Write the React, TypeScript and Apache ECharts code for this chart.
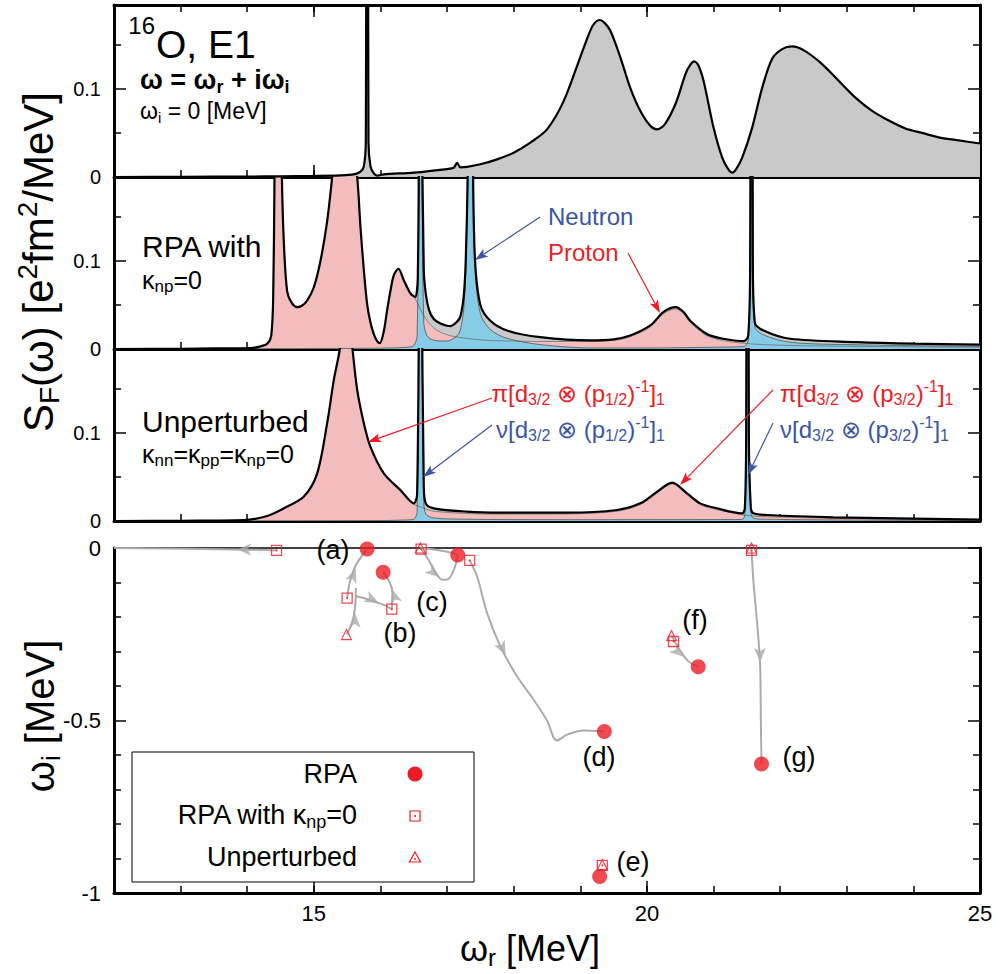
import React, { useEffect, useRef } from 'react';
import * as echarts from 'echarts';

const FONT = '"Liberation Sans", Arial, Helvetica, sans-serif';
const RED = '#ed1c24';
const BLUE = '#3b55a5';
const GRAY_FILL = '#c9c9c9';
const PINK_FILL = '#f4bdbd';
const BLUE_FILL = '#86cce6';
const TRAJ = '#ababab';

// ---------- tick labels ----------
const xTickCategories = ['12', '13', '14', '15', '16', '17', '18', '19', '20', '21', '22', '23', '24', '25'];
const xLabeledTicks = ['15', '20', '25'];
const xLongTicks = ['15', '20'];
const spectrumYTickValues = [0, 0.1];
const spectrumYTickLabels = ['0', '0.1'];
const bottomYTickValues = [-1, -0.5, 0];
const bottomYTickLabels = ['-1', '-0.5', '0'];

// ---------- panel 1 : RPA strength (omega_i = 0) ----------
const rpaTotal = [
  [12.0, 0.0], [13.0, 0.0002], [14.0, 0.0005], [14.5, 0.0008], [15.0, 0.0012], [15.4, 0.0018], [15.6, 0.003],
  [15.7, 0.006], [15.75, 0.012], [15.78, 0.04], [15.8, 0.9], [15.82, 0.04], [15.85, 0.012], [15.9, 0.004],
  [15.95, 0.0015], [16.05, 0.003], [16.5, 0.005], [17.0, 0.009], [17.1, 0.0105], [17.15, 0.016], [17.2, 0.011],
  [17.3, 0.0115], [17.5, 0.0144], [17.75, 0.02], [18.0, 0.0276], [18.25, 0.039], [18.5, 0.054], [18.75, 0.086],
  [19.0, 0.136], [19.15, 0.166], [19.22, 0.175], [19.29, 0.178], [19.36, 0.175], [19.45, 0.166], [19.6, 0.136],
  [19.75, 0.101], [19.9, 0.075], [20.05, 0.058], [20.15, 0.054], [20.27, 0.06], [20.43, 0.083], [20.58, 0.117],
  [20.65, 0.127], [20.71, 0.131], [20.77, 0.127], [20.85, 0.109], [21.0, 0.056], [21.13, 0.022], [21.22, 0.009],
  [21.28, 0.005], [21.34, 0.009], [21.43, 0.022], [21.58, 0.056], [21.73, 0.101], [21.88, 0.134], [22.03, 0.145],
  [22.18, 0.148], [22.37, 0.143], [22.63, 0.128], [22.88, 0.109], [23.13, 0.09], [23.38, 0.075], [23.63, 0.064],
  [23.88, 0.055], [24.13, 0.05], [24.38, 0.045], [24.63, 0.042], [25.0, 0.038],
];

// ---------- panel 2 : RPA with kappa_np = 0 ----------
const rpaNp0Total = [
  [12.0, 0.0], [13.0, 0.0003], [13.5, 0.0006], [14.05, 0.001], [14.2, 0.003], [14.3, 0.006], [14.36, 0.015],
  [14.39, 0.06], [14.41, 0.2], [14.45, 0.5], [14.52, 0.195], [14.55, 0.12], [14.6, 0.065], [14.67, 0.052],
  [14.75, 0.0475], [14.82, 0.049], [14.9, 0.055], [15.0, 0.07], [15.1, 0.1], [15.2, 0.145], [15.275, 0.195],
  [15.45, 0.32], [15.65, 0.195], [15.7, 0.138], [15.75, 0.09], [15.8, 0.051], [15.85, 0.03], [15.9, 0.017],
  [15.95, 0.009], [15.99, 0.0066], [16.05, 0.02], [16.1, 0.044], [16.15, 0.066], [16.2, 0.0835], [16.27, 0.091],
  [16.35, 0.078], [16.45, 0.063], [16.52, 0.059], [16.56, 0.08], [16.58, 0.3], [16.6, 1.0], [16.62, 0.3],
  [16.65, 0.09], [16.68, 0.063], [16.73, 0.044], [16.8, 0.034], [16.9, 0.029], [17.05, 0.026], [17.15, 0.031],
  [17.2, 0.037], [17.25, 0.06], [17.28, 0.1], [17.31, 0.2], [17.35, 0.5], [17.39, 0.2], [17.42, 0.1], [17.5, 0.05],
  [17.65, 0.032], [17.9, 0.021], [18.4, 0.0134], [19.15, 0.0097], [19.5, 0.011], [19.75, 0.0153], [20.05, 0.0267],
  [20.25, 0.042], [20.43, 0.0475], [20.55, 0.042], [20.65, 0.032], [20.9, 0.017], [21.15, 0.0116], [21.45, 0.0089],
  [21.52, 0.015], [21.55, 0.1], [21.57, 1.0], [21.59, 0.1], [21.62, 0.03], [21.75, 0.021], [22.15, 0.0116],
  [23.15, 0.0078], [24.0, 0.006], [25.0, 0.005],
];
const rpaNp0Proton = [
  [12.0, 0.0], [13.0, 0.0003], [13.5, 0.0006], [14.05, 0.001], [14.2, 0.003], [14.3, 0.006], [14.36, 0.015],
  [14.39, 0.06], [14.41, 0.2], [14.45, 0.5], [14.52, 0.195], [14.55, 0.12], [14.6, 0.065], [14.67, 0.052],
  [14.75, 0.0475], [14.82, 0.049], [14.9, 0.055], [15.0, 0.07], [15.1, 0.1], [15.2, 0.145], [15.275, 0.195],
  [15.45, 0.32], [15.65, 0.195], [15.7, 0.138], [15.75, 0.09], [15.8, 0.051], [15.85, 0.03], [15.9, 0.017],
  [15.95, 0.009], [15.99, 0.0066], [16.05, 0.02], [16.1, 0.044], [16.15, 0.066], [16.2, 0.0835], [16.27, 0.091],
  [16.35, 0.078], [16.45, 0.063], [16.52, 0.057], [16.6, 0.045], [16.7, 0.032], [16.8, 0.024], [16.9, 0.019],
  [17.05, 0.015], [17.3, 0.012], [17.6, 0.0098], [18.0, 0.009], [18.5, 0.0085], [19.15, 0.0085], [19.5, 0.0098],
  [19.75, 0.014], [20.05, 0.025], [20.25, 0.04], [20.43, 0.0455], [20.55, 0.04], [20.65, 0.03], [20.9, 0.015],
  [21.15, 0.0095], [21.45, 0.0065], [21.75, 0.005], [22.15, 0.004], [23.15, 0.003], [25.0, 0.002],
];
const rpaNp0Neutron = [
  [12.0, 0.0], [15.0, 0.0005], [16.0, 0.001], [16.4, 0.002], [16.5, 0.004], [16.55, 0.015], [16.58, 0.25],
  [16.6, 1.0], [16.62, 0.25], [16.65, 0.03], [16.7, 0.015], [16.8, 0.01], [17.0, 0.009], [17.15, 0.015],
  [17.2, 0.022], [17.25, 0.045], [17.28, 0.088], [17.31, 0.19], [17.35, 0.49], [17.39, 0.19], [17.42, 0.09],
  [17.5, 0.04], [17.65, 0.022], [17.9, 0.012], [18.4, 0.005], [19.15, 0.0012], [20.0, 0.0012], [21.0, 0.002],
  [21.45, 0.0028], [21.52, 0.009], [21.55, 0.095], [21.57, 1.0], [21.59, 0.095], [21.62, 0.025], [21.75, 0.016],
  [22.15, 0.0076], [23.15, 0.0048], [25.0, 0.003],
];

// ---------- panel 3 : unperturbed ----------
const unpTotal = [
  [12.0, 0.0], [13.0, 0.0003], [13.95, 0.001], [14.3, 0.0057], [14.55, 0.0144], [14.85, 0.0277], [15.05, 0.054],
  [15.2, 0.111], [15.3, 0.16], [15.39, 0.195], [15.49, 0.26], [15.58, 0.195], [15.65, 0.149], [15.75, 0.111],
  [15.85, 0.084], [16.05, 0.054], [16.3, 0.035], [16.5, 0.02], [16.55, 0.03], [16.58, 0.3], [16.6, 1.0],
  [16.62, 0.3], [16.65, 0.04], [16.68, 0.02], [16.8, 0.0144], [17.3, 0.0106], [17.8, 0.0095], [18.8, 0.0095],
  [19.55, 0.0125], [19.9, 0.02], [20.15, 0.033], [20.38, 0.0435], [20.6, 0.0315], [20.8, 0.02], [21.05, 0.0144],
  [21.43, 0.0087], [21.47, 0.015], [21.49, 0.1], [21.51, 1.0], [21.53, 0.1], [21.56, 0.015], [21.6, 0.0087],
  [21.8, 0.0068], [22.8, 0.0042], [25.0, 0.0015],
];
const unpProton = [
  [12.0, 0.0], [13.0, 0.0003], [13.95, 0.001], [14.3, 0.0057], [14.55, 0.0144], [14.85, 0.0277], [15.05, 0.054],
  [15.2, 0.111], [15.3, 0.16], [15.39, 0.195], [15.49, 0.26], [15.58, 0.195], [15.65, 0.149], [15.75, 0.111],
  [15.85, 0.084], [16.05, 0.054], [16.3, 0.034], [16.5, 0.019], [16.6, 0.016], [16.7, 0.013], [16.8, 0.011],
  [17.3, 0.0085], [17.8, 0.0078], [18.8, 0.008], [19.55, 0.011], [19.9, 0.0185], [20.15, 0.0315], [20.38, 0.042],
  [20.6, 0.03], [20.8, 0.0185], [21.05, 0.013], [21.43, 0.007], [21.6, 0.0055], [21.8, 0.0048], [22.8, 0.003],
  [25.0, 0.001],
];
const unpNeutron = [
  [12.0, 0.0], [16.0, 0.0005], [16.3, 0.001], [16.5, 0.002], [16.55, 0.011], [16.58, 0.29], [16.6, 1.0],
  [16.62, 0.29], [16.65, 0.025], [16.68, 0.008], [16.8, 0.0035], [17.3, 0.002], [18.8, 0.0015], [21.43, 0.0017],
  [21.47, 0.008], [21.49, 0.095], [21.51, 1.0], [21.53, 0.095], [21.56, 0.01], [21.6, 0.0032], [21.8, 0.002],
  [22.8, 0.0012], [25.0, 0.0005],
];

// ---------- panel 4 : complex-plane poles ----------
const rpaPoles = [[15.8, -0.003], [16.04, -0.07], [17.16, -0.02], [19.36, -0.532], [19.29, -0.952], [20.77, -0.344], [21.72, -0.626]];
const rpaNp0Poles = [[14.44, -0.007], [15.5, -0.145], [16.17, -0.177], [16.61, -0.003], [17.34, -0.036], [19.33, -0.92], [20.4, -0.271], [21.57, -0.007]];
const unperturbedPoles = [[15.49, -0.251], [16.6, 0.0], [19.33, -0.918], [20.37, -0.254], [21.57, 0.0]];

const trajectories = [
  [[14.44, -0.007], [13.8, -0.004], [12.0, 0.0]],
  [[15.49, -0.251], [15.57, -0.22], [15.62, -0.17], [15.63, -0.116]],
  [[15.5, -0.145], [15.54, -0.1], [15.63, -0.05], [15.8, -0.003]],
  [[15.63, -0.14], [15.75, -0.145], [15.9, -0.155], [16.05, -0.165], [16.17, -0.177]],
  [[16.17, -0.177], [16.18, -0.13], [16.14, -0.1], [16.04, -0.07]],
  [[16.6, 0.0], [16.72, -0.034], [16.83, -0.072], [16.93, -0.092], [17.02, -0.09], [17.12, -0.053], [17.16, -0.02]],
  [[16.6, 0.0], [16.85, -0.006], [17.05, -0.013], [17.16, -0.02]],
  [[17.34, -0.036], [17.45, -0.082], [17.6, -0.188], [17.8, -0.285], [18.05, -0.372], [18.3, -0.44], [18.5, -0.5],
    [18.65, -0.558], [18.8, -0.541], [19.05, -0.529], [19.36, -0.532]],
  [[20.37, -0.254], [20.6, -0.324], [20.77, -0.344]],
  [[21.57, -0.005], [21.6, -0.1], [21.65, -0.208], [21.7, -0.343], [21.71, -0.498], [21.72, -0.626]],
];
const trajectoryArrows = [
  { at: [13.85, -0.004], toward: [13.0, -0.002] },
  { at: [15.62, -0.19], toward: [15.63, -0.13] },
  { at: [15.63, -0.06], toward: [15.7, -0.025] },
  { at: [15.97, -0.158], toward: [16.1, -0.17] },
  { at: [16.18, -0.12], toward: [16.15, -0.1] },
  { at: [16.88, -0.084], toward: [16.95, -0.095] },
  { at: [17.88, -0.31], toward: [18.0, -0.355] },
  { at: [20.55, -0.315], toward: [20.65, -0.332] },
  { at: [21.7, -0.33], toward: [21.705, -0.4] },
];

const poleLabels = [
  { text: '(a)', px: [333, 550] },
  { text: '(b)', px: [400, 633] },
  { text: '(c)', px: [432, 602] },
  { text: '(d)', px: [599, 757] },
  { text: '(e)', px: [633, 862] },
  { text: '(f)', px: [695, 620] },
  { text: '(g)', px: [799, 757] },
];

const rich = (s: number, c: string, weight = 'normal', lh = 1.2) => ({
  m: { fontSize: s, fontFamily: FONT, fill: c, fontWeight: weight, lineHeight: Math.round(s * lh) },
  sub: { fontSize: Math.round(s * 0.66), fontFamily: FONT, fill: c, fontWeight: weight, verticalAlign: 'bottom', lineHeight: Math.round(s * 0.66) },
  sup: { fontSize: Math.round(s * 0.66), fontFamily: FONT, fill: c, fontWeight: weight, verticalAlign: 'top', lineHeight: Math.round(s * 0.66) },
});

function label(x: number, y: number, text: string, size: number, color = '#000', align = 'left', extra: any = {}, weight = 'normal', lh = 1.2) {
  return {
    type: 'text', x, y, z: 100, ...extra,
    style: { text, fill: color, fontSize: size, fontWeight: weight, fontFamily: FONT, align, verticalAlign: 'middle', rich: rich(size, color, weight, lh) },
  };
}

function arrowGraphic(x1: number, y1: number, x2: number, y2: number, color: string) {
  const dx = x2 - x1, dy = y2 - y1, L = Math.hypot(dx, dy);
  const ux = dx / L, uy = dy / L, nx = -uy, ny = ux;
  const hl = 13, hw = 4.5;
  const bx = x2 - ux * hl, by = y2 - uy * hl;
  return [
    { type: 'line', z: 100, shape: { x1, y1, x2: bx + ux * 3, y2: by + uy * 3 }, style: { stroke: color, lineWidth: 1.2 } },
    {
      type: 'polygon', z: 100,
      shape: { points: [[x2, y2], [bx + nx * hw, by + ny * hw], [x2 - ux * hl * 0.78, y2 - uy * hl * 0.78], [bx - nx * hw, by - ny * hw]] },
      style: { fill: color },
    },
  ];
}

let RPA_SERIES_INDEX = 0;

function buildOption() {
  const grids = [
    { left: 114, right: 20, top: 5, height: 172 },
    { left: 114, right: 20, top: 177, height: 172 },
    { left: 114, right: 20, top: 349, height: 172 },
    { left: 114, right: 20, top: 548, height: 345 },
  ];
  const xAxis: any[] = [];
  const yAxis: any[] = [];
  const xv: number[] = [];
  const yl: number[] = [];
  const frame = (w: number) => ({ show: true, onZero: false, lineStyle: { color: '#000', width: w } });
  const tick = (len: number) => ({ show: true, inside: true, length: len, lineStyle: { color: '#000', width: 1.5 } });
  const isLong = (_i: number, v: any) => xLongTicks.includes(String(v));
  const isLabeled = (_i: number, v: any) => xLabeledTicks.includes(String(v));
  const fmtSpec = (v: number) => {
    const i = spectrumYTickValues.findIndex((t) => Math.abs(t - v) < 1e-9);
    return i >= 0 ? spectrumYTickLabels[i] : '';
  };
  const fmtBottom = (v: number) => {
    const i = bottomYTickValues.findIndex((t) => Math.abs(t - v) < 1e-9);
    return i >= 0 ? bottomYTickLabels[i] : '';
  };

  for (let g = 0; g < 4; g++) {
    const bottom = g === 3;
    xv.push(xAxis.length);
    xAxis.push({
      type: 'value', gridIndex: g, position: 'bottom', min: 12, max: 25, interval: 1,
      axisLine: frame(3), axisTick: tick(7), axisLabel: { show: false }, splitLine: { show: false },
    });
    xAxis.push({
      type: 'category', gridIndex: g, position: 'bottom', data: xTickCategories, boundaryGap: false,
      axisLine: { show: false, onZero: false }, axisTick: { ...tick(12), interval: isLong },
      axisLabel: { show: bottom, interval: isLabeled, color: '#000', fontSize: 22, fontFamily: FONT, margin: 9 },
      splitLine: { show: false },
    });
    if (g === 0) {
      xAxis.push({
        type: 'value', gridIndex: 0, position: 'top', min: 12, max: 25, interval: 1,
        axisLine: frame(3), axisTick: tick(7), axisLabel: { show: false }, splitLine: { show: false },
      });
      xAxis.push({
        type: 'category', gridIndex: 0, position: 'top', data: xTickCategories, boundaryGap: false,
        axisLine: { show: false, onZero: false }, axisTick: { ...tick(12), interval: isLong },
        axisLabel: { show: false }, splitLine: { show: false },
      });
    }
    if (g === 3) {
      xAxis.push({
        type: 'value', gridIndex: 3, position: 'top', min: 12, max: 25, interval: 1,
        axisLine: frame(1.5), axisTick: { show: false }, axisLabel: { show: false }, splitLine: { show: false },
      });
    }
    const yBase = bottom
      ? { min: -1, max: 0, interval: 0.5, minorTick: { show: true, splitNumber: 5, length: 7, lineStyle: { color: '#000', width: 1.5 } } }
      : { min: 0, max: 0.195, interval: 0.1, minorTick: { show: true, splitNumber: 2, length: 7, lineStyle: { color: '#000', width: 1.5 } } };
    yl.push(yAxis.length);
    yAxis.push({
      type: 'value', gridIndex: g, position: 'left', ...yBase,
      axisLine: frame(3), axisTick: tick(12), splitLine: { show: false }, minorSplitLine: { show: false },
      axisLabel: {
        show: true, color: '#000', fontSize: bottom ? 22 : 20, fontFamily: FONT, margin: 13,
        showMaxLabel: true, showMinLabel: true, formatter: bottom ? fmtBottom : fmtSpec,
      },
    });
    yAxis.push({
      type: 'value', gridIndex: g, position: 'right', ...yBase,
      axisLine: frame(3), axisTick: tick(12), splitLine: { show: false }, minorSplitLine: { show: false },
      axisLabel: { show: false },
    });
  }

  const series: any[] = [];
  const area = (data: any, g: number, fill: string, lineColor: string, lineWidth: number, lineOpacity = 1) => ({
    type: 'line', data, xAxisIndex: xv[g], yAxisIndex: yl[g], symbol: 'none', showSymbol: false,
    smooth: 0.3, silent: true, clip: true,
    lineStyle: { color: lineColor, width: lineWidth, opacity: lineOpacity },
    areaStyle: { color: fill, opacity: 1 },
  });
  const line = (data: any, g: number) => ({
    type: 'line', data, xAxisIndex: xv[g], yAxisIndex: yl[g], symbol: 'none', showSymbol: false,
    smooth: 0.3, silent: true, clip: true,
    lineStyle: { color: '#000', width: 2.2 },
  });

  series.push(area(rpaTotal, 0, GRAY_FILL, '#000', 0, 0));
  series.push(line(rpaTotal, 0));

  series.push(area(rpaNp0Total, 1, GRAY_FILL, '#000', 0, 0));
  series.push(area(rpaNp0Proton, 1, PINK_FILL, '#666', 0.7));
  series.push(area(rpaNp0Neutron, 1, BLUE_FILL, '#444', 0.7));
  series.push(line(rpaNp0Total, 1));

  series.push(area(unpTotal, 2, GRAY_FILL, '#000', 0, 0));
  series.push(area(unpProton, 2, PINK_FILL, '#666', 0.7));
  series.push(area(unpNeutron, 2, BLUE_FILL, '#444', 0.7));
  series.push(line(unpTotal, 2));

  trajectories.forEach((t) => {
    series.push({
      type: 'line', data: t, xAxisIndex: xv[3], yAxisIndex: yl[3], symbol: 'none', showSymbol: false,
      smooth: 0.35, silent: true, clip: false, z: 3,
      lineStyle: { color: TRAJ, width: 2 },
    });
  });
  series.push({
    id: 'arrows', type: 'scatter', xAxisIndex: xv[3], yAxisIndex: yl[3], symbol: 'arrow', symbolSize: [9, 14],
    silent: true, clip: false, z: 4, itemStyle: { color: TRAJ },
    data: trajectoryArrows.map((a) => ({ value: a.at })),
  });
  series.push({
    type: 'scatter', xAxisIndex: xv[3], yAxisIndex: yl[3], symbol: 'rect', symbolSize: 10, silent: true, clip: false, z: 5,
    itemStyle: { color: 'rgba(255,255,255,0)', borderColor: RED, borderWidth: 1.3 }, data: rpaNp0Poles,
  });
  series.push({
    type: 'scatter', xAxisIndex: xv[3], yAxisIndex: yl[3], symbol: 'circle', symbolSize: 2, silent: true, clip: false, z: 5,
    itemStyle: { color: RED }, data: rpaNp0Poles,
  });
  series.push({
    type: 'scatter', xAxisIndex: xv[3], yAxisIndex: yl[3], symbol: 'triangle', symbolSize: 10, silent: true, clip: false, z: 5,
    itemStyle: { color: 'rgba(255,255,255,0)', borderColor: RED, borderWidth: 1.2 }, data: unperturbedPoles,
  });
  RPA_SERIES_INDEX = series.length;
  series.push({
    type: 'scatter', xAxisIndex: xv[3], yAxisIndex: yl[3], symbol: 'circle', symbolSize: 15, silent: true, clip: false, z: 6,
    itemStyle: { color: RED }, data: rpaPoles,
  });

  const graphic: any[] = [];
  // panel texts
  graphic.push(label(155, 25, '16', 24, '#000', 'right'));
  graphic.push(label(156, 44, '{m|O, E1}', 39, '#000', 'left', {}, 'normal', 0.95));
  graphic.push(label(140, 80, '{m|ω = ω}{sub|r}{m| + iω}{sub|i}', 27, '#000', 'left', {}, 'bold'));
  graphic.push(label(140, 111, '{m|ω}{sub|i}{m| = 0 [MeV]}', 23));
  graphic.push(label(142, 246, 'RPA with', 30));
  graphic.push(label(142, 280, '{m|κ}{sub|np}{m|=0}', 25));
  graphic.push(label(142, 421, 'Unperturbed', 30));
  graphic.push(label(142, 454, '{m|κ}{sub|nn}{m|=κ}{sub|pp}{m|=κ}{sub|np}{m|=0}', 25));
  graphic.push(label(548, 216, 'Neutron', 24, BLUE));
  graphic.push(label(548, 252, 'Proton', 24, RED));
  graphic.push(label(665, 393, '{m|π[d}{sub|3/2}{m| ⊗ (p}{sub|1/2}{m|)}{sup|-1}{m|]}{sub|1}', 24, RED, 'right'));
  graphic.push(label(665, 429, '{m|ν[d}{sub|3/2}{m| ⊗ (p}{sub|1/2}{m|)}{sup|-1}{m|]}{sub|1}', 24, BLUE, 'right'));
  graphic.push(label(780, 393, '{m|π[d}{sub|3/2}{m| ⊗ (p}{sub|3/2}{m|)}{sup|-1}{m|]}{sub|1}', 24, RED));
  graphic.push(label(780, 429, '{m|ν[d}{sub|3/2}{m| ⊗ (p}{sub|3/2}{m|)}{sup|-1}{m|]}{sub|1}', 24, BLUE));
  graphic.push(...arrowGraphic(540, 217, 475, 260, BLUE));
  graphic.push(...arrowGraphic(628, 253, 660, 313, RED));
  graphic.push(...arrowGraphic(492, 398, 368, 442, RED));
  graphic.push(...arrowGraphic(492, 425, 423, 477, BLUE));
  graphic.push(...arrowGraphic(773, 390, 680, 485, RED));
  graphic.push(...arrowGraphic(773, 423, 748, 475, BLUE));

  // pole labels
  poleLabels.forEach((p) => graphic.push(label(p.px[0], p.px[1], p.text, 27, '#000', 'center')));

  // legend
  graphic.push({ type: 'rect', z: 90, shape: { x: 132, y: 752, width: 342, height: 130 }, style: { fill: '#fff', stroke: '#000', lineWidth: 1 } });
  graphic.push(label(357, 774, 'RPA', 27, '#000', 'right'));
  graphic.push(label(357, 815, '{m|RPA with κ}{sub|np}{m|=0}', 27, '#000', 'right'));
  graphic.push(label(357, 857, 'Unperturbed', 27, '#000', 'right'));
  graphic.push({ type: 'circle', z: 100, shape: { cx: 415, cy: 774, r: 7.5 }, style: { fill: RED } });
  graphic.push({ type: 'rect', z: 100, shape: { x: 410, y: 811, width: 10, height: 10 }, style: { fill: 'none', stroke: RED, lineWidth: 1.2 } });
  graphic.push({ type: 'circle', z: 100, shape: { cx: 415, cy: 816, r: 1 }, style: { fill: RED } });
  graphic.push({ type: 'polygon', z: 100, shape: { points: [[415, 852], [420.5, 862], [409.5, 862]] }, style: { fill: 'none', stroke: RED, lineWidth: 1.2 } });
  graphic.push({ type: 'circle', z: 100, shape: { cx: 415, cy: 859, r: 0.9 }, style: { fill: RED } });

  // axis titles
  graphic.push(label(38, 262, '{m|S}{sub|F}{m|(ω) [e}{sup|2}{m|fm}{sup|2}{m|/MeV]}', 42, '#000', 'center', { rotation: Math.PI / 2 }));
  graphic.push(label(40, 716, '{m|ω}{sub|i}{m| [MeV]}', 40, '#000', 'center', { rotation: Math.PI / 2 }));
  graphic.push(label(530, 948, '{m|ω}{sub|r}{m| [MeV]}', 36, '#000', 'center'));

  return {
    animation: false,
    backgroundColor: '#fff',
    textStyle: { fontFamily: FONT },
    grid: grids,
    xAxis,
    yAxis,
    series,
    graphic,
  };
}

export default function App() {
  const ref = useRef<HTMLDivElement>(null);
  useEffect(() => {
    const chart = echarts.init(ref.current as HTMLDivElement, null, { renderer: 'svg' });
    chart.setOption(buildOption() as any);
    const arrowData = trajectoryArrows.map((a) => {
      const p1 = chart.convertToPixel({ seriesIndex: RPA_SERIES_INDEX } as any, a.at) as any;
      const p2 = chart.convertToPixel({ seriesIndex: RPA_SERIES_INDEX } as any, a.toward) as any;
      const dx = p2[0] - p1[0];
      const dy = p2[1] - p1[1];
      const rot = (Math.atan2(-dx, -dy) * 180) / Math.PI;
      return { value: a.at, symbolRotate: rot };
    });
    chart.setOption({ series: [{ id: 'arrows', data: arrowData }] } as any);
    return () => chart.dispose();
  }, []);
  return <div ref={ref} style={{ position: 'absolute', left: 0, top: 0, width: 1000, height: 974 }} />;
}
